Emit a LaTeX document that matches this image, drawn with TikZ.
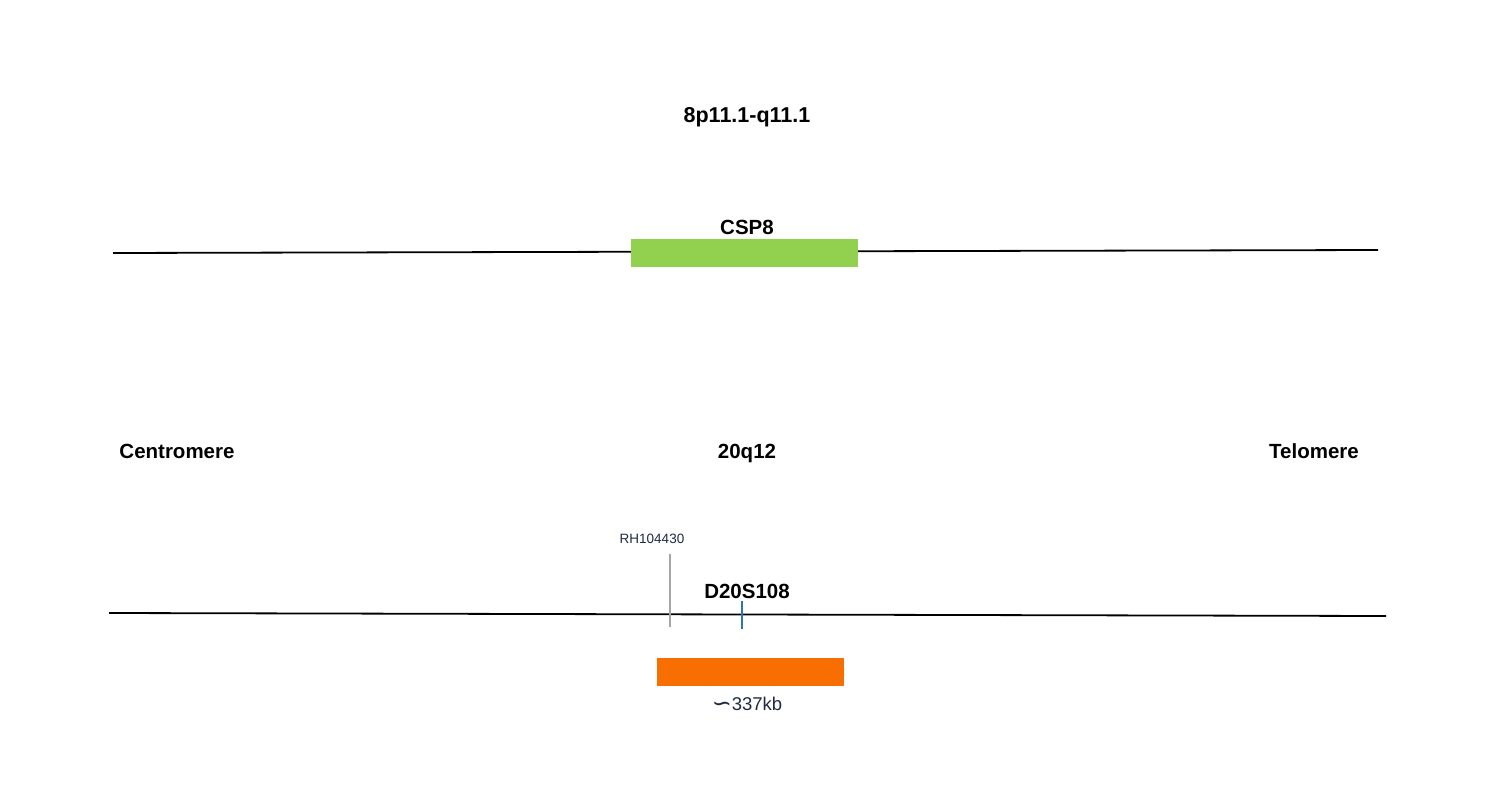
\documentclass[tikz,border=0pt]{standalone}
\usepackage{fontspec}
\setmainfont{Liberation Sans}
\newfontfamily\djv{DejaVu Sans}
\definecolor{csgreen}{HTML}{92D050}
\definecolor{ormark}{HTML}{F96E00}
\definecolor{tickblue}{HTML}{2E75B6}
\definecolor{tickgray}{HTML}{A6A6A6}
\definecolor{navytxt}{HTML}{1F2A44}
\begin{document}
\begin{tikzpicture}[x=1pt,y=-1pt,
  lbl/.style={font=\fontsize{20.5}{24}\selectfont\bfseries, text=black, inner sep=0pt, anchor=base},
  chrom/.style={draw=black, line width=1.8pt},
  tick/.style={line width=1.8pt}]
\useasboundingbox[fill=white] (0,0) rectangle (1505,800);
% top chromosome
\coordinate (t1) at (113,253);
\coordinate (t2) at (1378,250);
\draw[chrom] (t1) -- (t2);
\node[fill=csgreen, minimum width=227pt, minimum height=28pt, inner sep=0pt, anchor=north west] (csp) at (631,239) {};
\node[lbl] (csplbl) at (747,234) {CSP8};
\node[lbl, font=\fontsize{21.5}{24}\selectfont\bfseries] (title) at (747,122) {8p11.1-q11.1};
% middle labels
\node[lbl] (cen) at (177,458) {Centromere};
\node[lbl] (q12) at (747,458) {20q12};
\node[lbl] (tel) at (1314,458) {Telomere};
% bottom chromosome
\coordinate (b1) at (109,613);
\coordinate (b2) at (1386,616);
\draw[chrom] (b1) -- (b2);
\coordinate (rhTop) at (670,554);
\coordinate (rhBot) at (670,627);
\draw[tick, draw=tickgray] (rhTop) -- (rhBot);
\node[inner sep=0pt, anchor=base, text=navytxt, font=\fontsize{13.5}{15}\selectfont] (rh) at (652,543) {RH104430};
\coordinate (dTop) at (742,601);
\coordinate (dBot) at (742,629);
\draw[tick, draw=tickblue] (dTop) -- (dBot);
\node[lbl] (d20) at (747,598) {D20S108};
\node[fill=ormark, minimum width=187pt, minimum height=28pt, inner sep=0pt, anchor=north west] (orange) at (657,658) {};
\node[inner sep=0pt, anchor=base, text=navytxt, font=\fontsize{18.5}{22}\selectfont] (kb) at (747,710) {{\djv\fontsize{24}{24}\selectfont\raisebox{-1pt}{∽}}337kb};
\end{tikzpicture}
\end{document}
